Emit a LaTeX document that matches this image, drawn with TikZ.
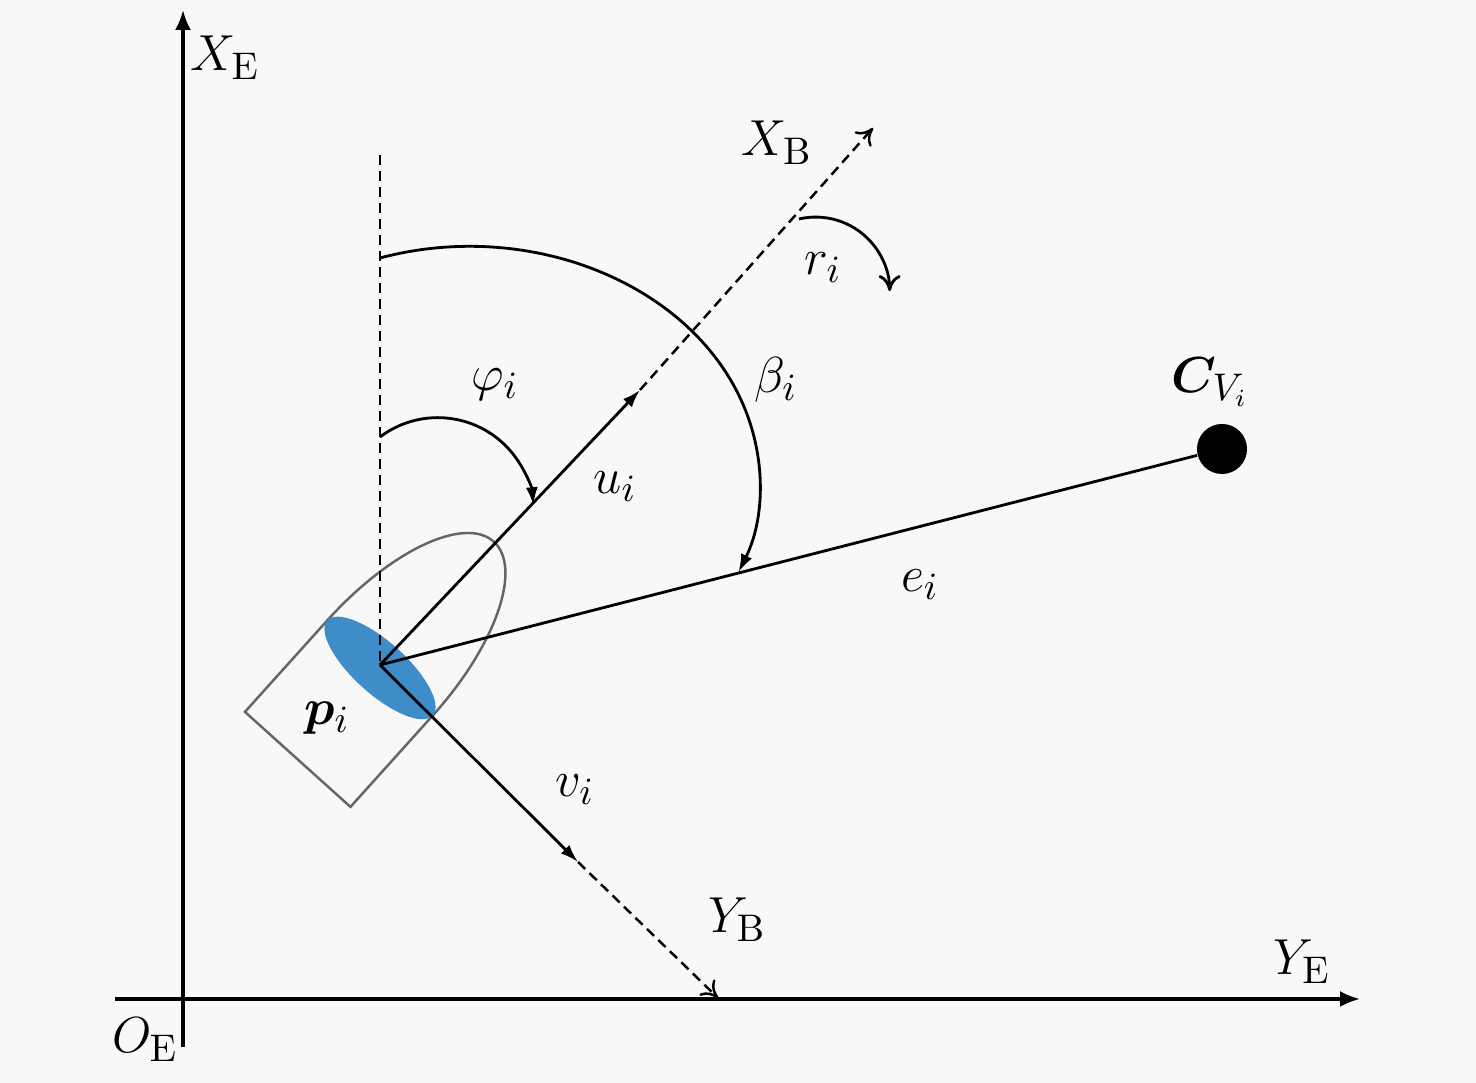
\documentclass[tikz,border=0pt]{standalone}
\usepackage{amsmath, amssymb, bm}
\usepackage{tikz}
\usetikzlibrary{arrows.meta}

\definecolor{bgcol}{RGB}{248,248,248}
\definecolor{hullblue}{RGB}{62,140,200}

\begin{document}
\begin{tikzpicture}[x=0.01cm,y=0.01cm,
		lbl/.style={font=\fontsize{15}{18}\selectfont, inner sep=0pt},
		axis/.style={line width=0.9pt,-{Latex[length=2mm,width=1.6mm]}},
		vec/.style={line width=0.8pt,-{Latex[length=1.8mm,width=1.2mm]}},
		dashline/.style={line width=0.7pt,dash pattern=on 1mm off 0.6mm},
		ext/.style={dashline,-{To[length=1.6mm,width=2.2mm]}},
		hull/.style={draw=black!60,line width=0.7pt}]
		\fill[bgcol] (0,0) rectangle (1476,1083);
		
		% earth frame
		\coordinate (o) at (183,84);
		\coordinate (xtop) at (183,1073);
		\coordinate (xbot) at (183,36);
		\coordinate (yleft) at (115,84);
		\coordinate (yright) at (1360,84);
		\draw[axis] (xbot) -- (xtop);
		\draw[axis] (yleft) -- (yright);
		\node[lbl] (xe) at (225,1025) {$X_{\mathrm{E}}$};
		\node[lbl] (ye) at (1302,121) {$Y_{\mathrm{E}}$};
		\node[lbl] (oe) at (145,43) {$O_{\mathrm{E}}$};
		
		% boat
		\begin{scope}[shift={(380,415)},rotate=48]
			\draw[hull] (0,-71) rectangle (-123,71);
			\draw[hull] (0,71) arc[start angle=90,end angle=-90,x radius=170,y radius=71];
			\fill[hullblue] (0,0) ellipse[x radius=26,y radius=71];
		\end{scope}
		
		% body frame
		\coordinate (p) at (380,418);
		\coordinate (vtop) at (380,928);
		\draw[dashline] (vtop) -- (p);
		\coordinate (xbm) at (640,693);
		\coordinate (xbe) at (873,955);
		\coordinate (ybm) at (578,221);
		\coordinate (ybe) at (718,85);
		\draw[vec] (p) -- (xbm);
		\draw[ext] (xbm) -- (xbe);
		\draw[vec] (p) -- (ybm);
		\draw[ext] (ybm) -- (ybe);
		
		% target
		\node[circle,fill=black,minimum size=0.5cm,inner sep=0pt] (cv) at (1222,634) {};
		\draw[line width=0.8pt] (p) -- (cv);
		
		% angles
		\coordinate (phis) at (380,646);
		\draw[vec] (phis) arc[start angle=127,end angle=5,radius=96];
		\coordinate (betas) at (380,825);
		\draw[vec] (betas) arc[start angle=108,end angle=-22,x radius=290,y radius=237];
		\coordinate (rs) at (799,864);
		\draw[line width=0.8pt,-{To[length=1.6mm,width=2.2mm]}] (rs) arc[start angle=103,end angle=0,radius=74];
		
		\node[lbl] (xb) at (777,940) {$X_{\mathrm{B}}$};
		\node[lbl] (yb) at (737,163) {$Y_{\mathrm{B}}$};
		\node[lbl] (ri) at (823,815) {$r_i$};
		\node[lbl] (phii) at (495,698) {$\varphi_i$};
		\node[lbl] (betai) at (776,703) {$\beta_i$};
		\node[lbl] (ui) at (615,596) {$u_i$};
		\node[lbl] (ei) at (920,498) {$e_i$};
		\node[lbl] (vi) at (575,293) {$v_i$};
		\node[lbl] (pi) at (327,365) {$\bm{p}_i$};
		\node[lbl] (cvi) at (1210,701) {$\bm{C}_{V_i}$};
\end{tikzpicture}
\end{document}
